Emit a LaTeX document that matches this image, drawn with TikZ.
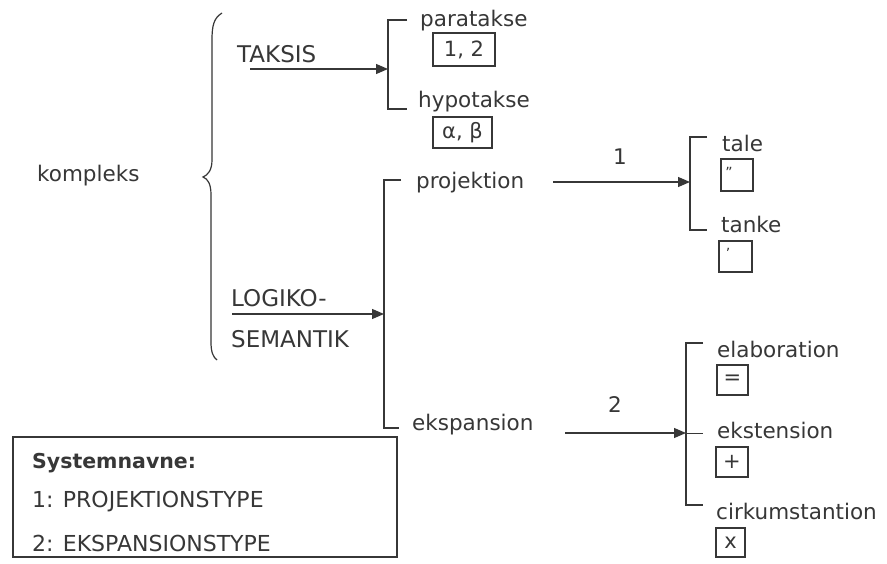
\documentclass[tikz,border=0pt]{standalone}
\usepackage{fontspec}
\setmainfont{DejaVu Sans}
\usetikzlibrary{arrows.meta}
\definecolor{ink}{RGB}{55,55,55}
\begin{document}
\begin{tikzpicture}[x=1pt,y=-1pt,
 lbl/.style={anchor=base west, inner sep=0pt, text=ink, font=\fontsize{21.5}{25}\selectfont},
 caps/.style={lbl, font=\fontsize{23}{27}\selectfont},
 symbox/.style={draw=ink, line width=1.1pt, inner sep=0pt, text=ink, font=\fontsize{21}{24}\selectfont},
 tinymark/.style={inner sep=0pt, text=ink, font=\fontsize{14}{15}\selectfont},
 conn/.style={draw=ink, line width=1.3pt},
 arr/.style={conn, -{Triangle[length=12pt,width=10pt]}},
]
\fill[white] (0,0) rectangle (887,564);
\useasboundingbox (0,0) rectangle (887,564);

% left brace
\draw[conn, line width=1.2pt] (222,13) .. controls (214,18) and (212,25) .. (212,40) -- (212,160)
  .. controls (212,170) and (208,175) .. (203,177)
  .. controls (208,179) and (211,184) .. (211,195) -- (211,342)
  .. controls (211,352) and (213,357) .. (217,360);

\node[lbl] (kompleks) at (37,182) {kompleks};

% TAKSIS
\node[caps] (taksis) at (237,63) {TAKSIS};
\coordinate (taksisStart) at (250,69);
\coordinate (taksisBr) at (388,69);
\draw[arr] (taksisStart) -- (taksisBr);
\draw[conn] (407,20) -- (388,20) -- (388,109) -- (407,109);
\node[lbl] (parataks) at (420,27) {paratakse};
\node[symbox, minimum width=62pt, minimum height=33pt] (b12) at (464,49.5) {1, 2};
\node[lbl] (hypotaks) at (418,108) {hypotakse};
\node[symbox, minimum width=59pt, minimum height=31pt] (bab) at (462.5,132.5) {α, β};

% LOGIKO-SEMANTIK
\node[caps] (logiko) at (231,307) {LOGIKO-};
\node[caps] (semantik) at (231,348) {SEMANTIK};
\coordinate (logStart) at (232,314);
\coordinate (logBr) at (384,314);
\draw[arr] (logStart) -- (logBr);
\draw[conn] (401,180) -- (384,180) -- (384,428) -- (399,428);
\node[lbl] (projektion) at (416,189) {projektion};
\node[lbl] (ekspansion) at (412,430) {ekspansion};

% projection
\coordinate (projStart) at (553,182);
\coordinate (projBr) at (690,182);
\draw[arr] (projStart) -- (projBr);
\node[lbl, anchor=base] (one) at (620,165) {1};
\draw[conn] (707,137) -- (690,137) -- (690,230) -- (707,230);
\node[lbl] (tale) at (722,152) {tale};
\node[symbox, minimum width=32pt, minimum height=32pt] (btale) at (737,175) {};
\node[tinymark] (mtale) at (729,172) {”};
\node[lbl] (tanke) at (721,233) {tanke};
\node[symbox, minimum width=33pt, minimum height=31pt] (btanke) at (735.5,256.5) {};
\node[tinymark] (mtanke) at (728,253) {’};

% expansion
\coordinate (expStart) at (565,433);
\coordinate (expBr) at (686,433);
\draw[arr] (expStart) -- (expBr);
\node[lbl, anchor=base] (two) at (615,412) {2};
\draw[conn] (703,343) -- (686,343) -- (686,505) -- (703,505);
\draw[conn, line width=1pt] (expBr) -- (703,433);
\node[lbl] (elab) at (717,357) {elaboration};
\node[symbox, minimum width=31pt, minimum height=30pt] (beq) at (732.5,380) {=};
\node[lbl] (ekst) at (717,438) {ekstension};
\node[symbox, minimum width=32pt, minimum height=30pt] (bplus) at (732,462) {+};
\node[lbl] (cirk) at (716,519) {cirkumstantion};
\node[symbox, minimum width=29pt, minimum height=29pt] (bx) at (730.5,542.5) {x};

% legend box
\draw[draw=ink, line width=1.2pt] (13,437) rectangle (397,557);
\node[lbl, font=\fontsize{20.5}{24}\bfseries] (sysnavne) at (32,468) {Systemnavne:};
\node[lbl, font=\fontsize{22}{26}\selectfont] (leg1) at (32,507) {1: PROJEKTIONSTYPE};
\node[lbl, font=\fontsize{22}{26}\selectfont] (leg2) at (32,551) {2: EKSPANSIONSTYPE};
\end{tikzpicture}
\end{document}
